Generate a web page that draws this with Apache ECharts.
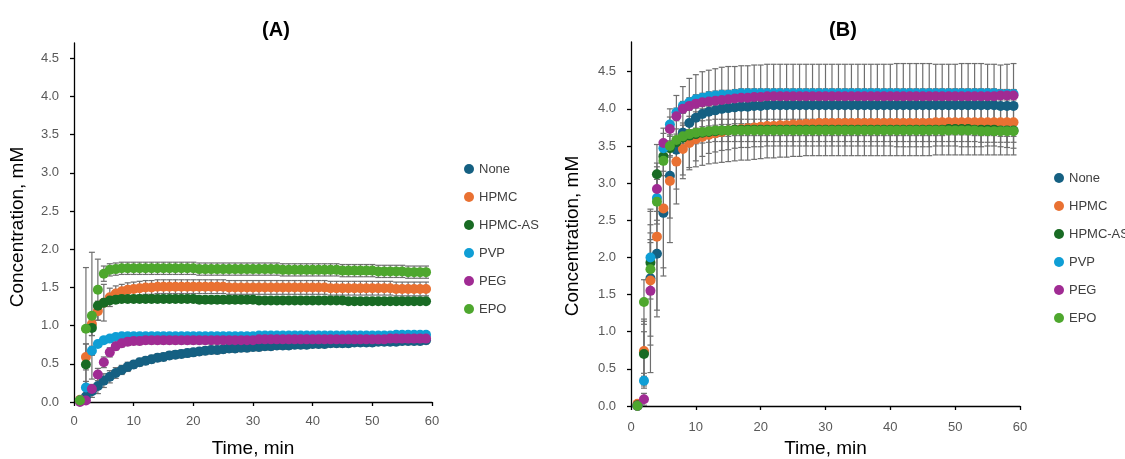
<!DOCTYPE html>
<html>
<head>
<meta charset="utf-8">
<script src="https://cdn.jsdelivr.net/npm/echarts@6/dist/echarts.min.js"></script>
<style>
html,body{margin:0;padding:0;background:#fff;}
#chart{width:1125px;height:459px;}
</style>
</head>
<body>
<div id="chart"></div>
<script>
// ---------------- DATA ----------------
const seriesNames = ['None', 'HPMC', 'HPMC-AS', 'PVP', 'PEG', 'EPO'];
const timeMin = [1,2,3,4,5,6,7,8,9,10,11,12,13,14,15,16,17,18,19,20,21,22,23,24,25,26,27,28,29,30,
  31,32,33,34,35,36,37,38,39,40,41,42,43,44,45,46,47,48,49,50,51,52,53,54,55,56,57,58,59];
const xTicks = [0,10,20,30,40,50,60];
const yTicks = [0,0.5,1,1.5,2,2.5,3,3.5,4,4.5];

// Panel (A) mean concentrations, mM
const A_None = [0.02,0.07,0.14,0.21,0.28,0.33,0.38,0.42,0.46,0.49,
  0.52,0.54,0.56,0.58,0.59,0.61,0.62,0.63,0.64,0.65,
  0.66,0.67,0.68,0.68,0.69,0.70,0.70,0.71,0.71,0.72,
  0.72,0.73,0.73,0.74,0.74,0.74,0.75,0.75,0.75,0.76,
  0.76,0.76,0.77,0.77,0.77,0.77,0.78,0.78,0.78,0.78,
  0.79,0.79,0.79,0.79,0.80,0.80,0.80,0.80,0.81];
const A_HPMC = [0.03,0.59,1.02,1.19,1.30,1.37,1.42,1.45,1.47,1.48,
  1.49,1.50,1.50,1.51,1.51,1.51,1.51,1.51,1.51,1.51,
  1.51,1.51,1.51,1.51,1.51,1.50,1.50,1.50,1.50,1.50,
  1.50,1.50,1.50,1.50,1.50,1.50,1.50,1.50,1.50,1.50,
  1.50,1.50,1.49,1.49,1.49,1.49,1.49,1.49,1.49,1.49,
  1.49,1.49,1.49,1.48,1.48,1.48,1.48,1.48,1.48];
const A_HPMCAS = [0.02,0.49,0.97,1.26,1.30,1.33,1.34,1.35,1.35,1.35,
  1.35,1.35,1.35,1.35,1.35,1.35,1.35,1.35,1.35,1.35,
  1.34,1.34,1.34,1.34,1.34,1.34,1.34,1.34,1.34,1.34,
  1.33,1.33,1.33,1.33,1.33,1.33,1.33,1.33,1.33,1.33,
  1.33,1.33,1.33,1.33,1.33,1.32,1.32,1.32,1.32,1.32,
  1.32,1.32,1.32,1.32,1.32,1.32,1.32,1.32,1.32];
const A_PVP = [0.02,0.19,0.67,0.76,0.81,0.83,0.85,0.86,0.86,0.86,
  0.86,0.86,0.86,0.86,0.86,0.86,0.86,0.86,0.86,0.86,
  0.86,0.86,0.86,0.86,0.86,0.86,0.86,0.86,0.86,0.86,
  0.87,0.87,0.87,0.87,0.87,0.87,0.87,0.87,0.87,0.87,
  0.87,0.87,0.87,0.87,0.87,0.87,0.87,0.87,0.87,0.87,
  0.87,0.87,0.87,0.88,0.88,0.88,0.88,0.88,0.88];
const A_PEG = [0.00,0.02,0.17,0.36,0.52,0.65,0.73,0.77,0.79,0.80,
  0.80,0.81,0.81,0.81,0.81,0.81,0.81,0.81,0.81,0.81,
  0.81,0.81,0.81,0.81,0.81,0.81,0.81,0.81,0.81,0.81,
  0.82,0.82,0.82,0.82,0.82,0.82,0.82,0.82,0.82,0.82,
  0.82,0.82,0.82,0.82,0.82,0.82,0.82,0.82,0.82,0.82,
  0.82,0.82,0.83,0.83,0.83,0.83,0.83,0.83,0.83];
const A_EPO = [0.02,0.96,1.13,1.47,1.68,1.73,1.74,1.75,1.75,1.75,
  1.75,1.75,1.75,1.75,1.75,1.75,1.75,1.75,1.75,1.75,
  1.74,1.74,1.74,1.74,1.74,1.74,1.74,1.74,1.74,1.74,
  1.74,1.74,1.74,1.74,1.73,1.73,1.73,1.73,1.73,1.73,
  1.73,1.73,1.73,1.73,1.72,1.72,1.72,1.72,1.72,1.72,
  1.71,1.71,1.71,1.71,1.71,1.70,1.70,1.70,1.70];

// Panel (A) standard deviations
const A_None_sd = [0.02,0.06,0.08,0.10,0.09,0.08,0.07,0.06,0.06,0.05,
  0.05,0.05,0.05,0.05,0.05,0.05,0.05,0.05,0.05,0.05,
  0.05,0.05,0.05,0.05,0.05,0.05,0.05,0.05,0.05,0.05,
  0.05,0.05,0.05,0.05,0.05,0.05,0.05,0.05,0.05,0.05,
  0.05,0.05,0.05,0.05,0.05,0.05,0.05,0.05,0.05,0.05,
  0.05,0.05,0.05,0.05,0.05,0.05,0.05,0.05,0.05];
const A_HPMC_sd = [0.02,0.17,0.15,0.12,0.24,0.12,0.10,0.09,0.09,0.09,
  0.09,0.09,0.09,0.09,0.09,0.09,0.09,0.09,0.09,0.09,
  0.09,0.09,0.09,0.09,0.09,0.09,0.09,0.09,0.09,0.09,
  0.09,0.09,0.09,0.09,0.09,0.09,0.09,0.09,0.09,0.09,
  0.09,0.09,0.09,0.09,0.09,0.09,0.09,0.09,0.09,0.09,
  0.09,0.09,0.09,0.09,0.09,0.09,0.09,0.09,0.09];
const A_HPMCAS_sd = [0.02,0.27,0.10,0.06,0.05,0.04,0.04,0.04,0.04,0.04,
  0.04,0.04,0.04,0.04,0.04,0.04,0.04,0.04,0.04,0.04,
  0.04,0.04,0.04,0.04,0.04,0.04,0.04,0.04,0.04,0.04,
  0.04,0.04,0.04,0.04,0.04,0.04,0.04,0.04,0.04,0.04,
  0.04,0.04,0.04,0.04,0.04,0.04,0.04,0.04,0.04,0.04,
  0.04,0.04,0.04,0.04,0.04,0.04,0.04,0.04,0.04];
const A_PVP_sd = [0.02,0.08,0.06,0.04,0.03,0.03,0.03,0.03,0.03,0.03,
  0.03,0.03,0.03,0.03,0.03,0.03,0.03,0.03,0.03,0.03,
  0.03,0.03,0.03,0.03,0.03,0.03,0.03,0.03,0.03,0.03,
  0.03,0.03,0.03,0.03,0.03,0.03,0.03,0.03,0.03,0.03,
  0.03,0.03,0.03,0.03,0.03,0.03,0.03,0.03,0.03,0.03,
  0.03,0.03,0.03,0.03,0.03,0.03,0.03,0.03,0.03];
const A_PEG_sd = [0.00,0.02,0.06,0.08,0.07,0.06,0.05,0.05,0.05,0.05,
  0.05,0.05,0.05,0.05,0.05,0.05,0.05,0.05,0.05,0.05,
  0.05,0.05,0.05,0.05,0.05,0.05,0.05,0.05,0.05,0.05,
  0.05,0.05,0.05,0.05,0.05,0.05,0.05,0.05,0.05,0.05,
  0.05,0.05,0.05,0.05,0.05,0.05,0.05,0.05,0.05,0.05,
  0.05,0.05,0.05,0.05,0.05,0.05,0.05,0.05,0.05];
const A_EPO_sd = [0.02,0.80,0.83,0.40,0.10,0.08,0.08,0.08,0.08,0.08,
  0.08,0.08,0.08,0.08,0.08,0.08,0.08,0.08,0.08,0.08,
  0.08,0.08,0.08,0.08,0.08,0.08,0.08,0.08,0.08,0.08,
  0.08,0.08,0.08,0.08,0.08,0.08,0.08,0.08,0.08,0.08,
  0.08,0.08,0.08,0.08,0.08,0.08,0.08,0.08,0.08,0.08,
  0.08,0.08,0.08,0.08,0.08,0.08,0.08,0.08,0.08];

// Panel (B) mean concentrations, mM
const B_None = [0.01,0.72,1.72,2.05,2.60,3.10,3.45,3.68,3.81,3.88,
  3.93,3.96,3.98,4.00,4.01,4.02,4.03,4.03,4.04,4.04,
  4.05,4.05,4.05,4.05,4.05,4.05,4.05,4.05,4.05,4.05,
  4.05,4.05,4.05,4.05,4.05,4.05,4.05,4.05,4.05,4.05,
  4.05,4.05,4.05,4.05,4.05,4.05,4.05,4.05,4.05,4.05,
  4.05,4.05,4.05,4.05,4.05,4.05,4.04,4.04,4.04];
const B_HPMC = [0.03,0.74,1.69,2.28,2.66,3.03,3.29,3.46,3.54,3.59,
  3.62,3.65,3.67,3.69,3.71,3.72,3.73,3.74,3.75,3.76,
  3.77,3.77,3.78,3.78,3.79,3.79,3.80,3.80,3.81,3.81,
  3.81,3.81,3.81,3.81,3.81,3.81,3.81,3.81,3.81,3.81,
  3.81,3.81,3.81,3.81,3.81,3.81,3.82,3.82,3.82,3.82,
  3.82,3.82,3.82,3.82,3.82,3.82,3.82,3.82,3.82];
const B_HPMCAS = [0.01,0.70,1.93,3.12,3.36,3.47,3.55,3.61,3.64,3.66,
  3.68,3.69,3.70,3.71,3.71,3.72,3.72,3.72,3.72,3.72,
  3.72,3.72,3.72,3.72,3.72,3.72,3.72,3.72,3.72,3.72,
  3.72,3.72,3.72,3.72,3.72,3.72,3.72,3.72,3.72,3.72,
  3.72,3.72,3.72,3.72,3.72,3.72,3.72,3.72,3.73,3.73,
  3.73,3.73,3.72,3.72,3.72,3.72,3.71,3.71,3.71];
const B_PVP = [0.00,0.34,2.00,2.80,3.47,3.79,3.95,4.04,4.09,4.13,
  4.15,4.17,4.18,4.19,4.19,4.20,4.21,4.21,4.21,4.21,
  4.21,4.21,4.21,4.21,4.21,4.21,4.21,4.21,4.21,4.21,
  4.21,4.21,4.21,4.21,4.21,4.21,4.21,4.21,4.21,4.21,
  4.21,4.21,4.21,4.21,4.21,4.21,4.21,4.21,4.21,4.21,
  4.21,4.21,4.21,4.21,4.21,4.21,4.20,4.20,4.20];
const B_PEG = [0.00,0.09,1.55,2.92,3.54,3.73,3.90,4.00,4.04,4.07,
  4.09,4.10,4.11,4.12,4.13,4.14,4.15,4.15,4.16,4.16,
  4.17,4.17,4.17,4.17,4.17,4.17,4.17,4.17,4.17,4.17,
  4.17,4.17,4.17,4.17,4.17,4.17,4.17,4.17,4.17,4.17,
  4.17,4.17,4.17,4.17,4.17,4.17,4.17,4.17,4.17,4.17,
  4.17,4.17,4.17,4.17,4.17,4.17,4.18,4.18,4.18];
const B_EPO = [0.00,1.40,1.84,2.75,3.30,3.50,3.58,3.63,3.66,3.68,
  3.69,3.70,3.71,3.71,3.71,3.71,3.71,3.71,3.71,3.71,
  3.71,3.71,3.71,3.71,3.71,3.71,3.71,3.71,3.71,3.71,
  3.71,3.71,3.71,3.71,3.71,3.71,3.71,3.71,3.71,3.71,
  3.71,3.71,3.71,3.71,3.71,3.71,3.71,3.71,3.71,3.71,
  3.71,3.71,3.71,3.70,3.70,3.70,3.70,3.70,3.70];

// Panel (B) standard deviations
const B_None_sd = [0.01,0.45,0.90,0.85,0.85,0.90,0.73,0.62,0.60,0.58,
  0.57,0.56,0.56,0.56,0.56,0.55,0.55,0.55,0.55,0.55,
  0.55,0.55,0.55,0.55,0.55,0.55,0.55,0.55,0.55,0.55,
  0.55,0.55,0.55,0.55,0.55,0.55,0.55,0.55,0.55,0.55,
  0.56,0.56,0.56,0.56,0.56,0.56,0.55,0.55,0.55,0.55,
  0.56,0.56,0.56,0.56,0.55,0.55,0.55,0.56,0.57];
const B_HPMC_sd = [0.03,0.40,0.75,0.99,0.80,0.50,0.37,0.35,0.36,0.37,
  0.38,0.39,0.40,0.41,0.42,0.42,0.42,0.43,0.43,0.43,
  0.43,0.43,0.43,0.43,0.43,0.43,0.43,0.43,0.44,0.44,
  0.44,0.44,0.44,0.44,0.44,0.44,0.44,0.44,0.44,0.44,
  0.44,0.44,0.44,0.44,0.44,0.44,0.44,0.44,0.44,0.44,
  0.44,0.44,0.44,0.44,0.44,0.44,0.44,0.44,0.44];
const B_HPMCAS_sd = [0.01,0.30,0.40,0.40,0.20,0.10,0.08,0.08,0.08,0.08,
  0.08,0.08,0.08,0.08,0.08,0.08,0.08,0.08,0.08,0.08,
  0.08,0.08,0.08,0.08,0.08,0.08,0.08,0.08,0.08,0.08,
  0.08,0.08,0.08,0.08,0.08,0.08,0.08,0.08,0.08,0.08,
  0.08,0.08,0.08,0.08,0.08,0.08,0.08,0.08,0.08,0.08,
  0.08,0.08,0.08,0.08,0.08,0.08,0.08,0.08,0.08];
const B_PVP_sd = [0.00,0.10,0.20,0.30,0.20,0.10,0.06,0.06,0.06,0.06,
  0.06,0.06,0.06,0.06,0.06,0.06,0.06,0.06,0.06,0.06,
  0.06,0.06,0.06,0.06,0.06,0.06,0.06,0.06,0.06,0.06,
  0.06,0.06,0.06,0.06,0.06,0.06,0.06,0.06,0.06,0.06,
  0.06,0.06,0.06,0.06,0.06,0.06,0.06,0.06,0.06,0.06,
  0.06,0.06,0.06,0.06,0.06,0.06,0.06,0.06,0.06];
const B_PEG_sd = [0.00,0.08,1.10,0.30,0.20,0.10,0.06,0.06,0.06,0.06,
  0.06,0.06,0.06,0.06,0.06,0.06,0.06,0.06,0.06,0.06,
  0.06,0.06,0.06,0.06,0.06,0.06,0.06,0.06,0.06,0.06,
  0.06,0.06,0.06,0.06,0.06,0.06,0.06,0.06,0.06,0.06,
  0.06,0.06,0.06,0.06,0.06,0.06,0.06,0.06,0.06,0.06,
  0.06,0.06,0.06,0.06,0.06,0.06,0.06,0.06,0.06];
const B_EPO_sd = [0.00,0.30,0.40,0.30,0.20,0.15,0.15,0.15,0.15,0.15,
  0.15,0.15,0.15,0.15,0.15,0.15,0.15,0.15,0.15,0.15,
  0.15,0.15,0.15,0.15,0.15,0.15,0.15,0.15,0.15,0.15,
  0.15,0.15,0.15,0.15,0.15,0.15,0.15,0.15,0.15,0.15,
  0.15,0.15,0.15,0.15,0.15,0.15,0.15,0.15,0.15,0.15,
  0.15,0.15,0.15,0.15,0.15,0.15,0.15,0.15,0.15];

// ---------------- STYLE ----------------
const colors = ['#156082', '#E97132', '#196B24', '#0F9ED5', '#A02B93', '#4EA72E'];
const FONT = '"Liberation Sans", Arial, sans-serif';
const panelA = { means: [A_None, A_HPMC, A_HPMCAS, A_PVP, A_PEG, A_EPO],
                 sds: [A_None_sd, A_HPMC_sd, A_HPMCAS_sd, A_PVP_sd, A_PEG_sd, A_EPO_sd] };
const panelB = { means: [B_None, B_HPMC, B_HPMCAS, B_PVP, B_PEG, B_EPO],
                 sds: [B_None_sd, B_HPMC_sd, B_HPMCAS_sd, B_PVP_sd, B_PEG_sd, B_EPO_sd] };

function errRender(params, api) {
  const x = api.value(0);
  const lo = api.coord([x, api.value(1)]);
  const hi = api.coord([x, api.value(2)]);
  const w = 3;
  const st = { stroke: '#6e6e6e', lineWidth: 1.2 };
  return { type: 'group', children: [
    { type: 'line', shape: { x1: lo[0], y1: lo[1], x2: hi[0], y2: hi[1] }, style: st },
    { type: 'line', shape: { x1: lo[0] - w, y1: lo[1], x2: lo[0] + w, y2: lo[1] }, style: st },
    { type: 'line', shape: { x1: hi[0] - w, y1: hi[1], x2: hi[0] + w, y2: hi[1] }, style: st }
  ]};
}

const series = [];
[panelA, panelB].forEach((p, pi) => {
  p.means.forEach((m, si) => {
    series.push({
      type: 'custom', name: 'err' + pi + si, xAxisIndex: pi, yAxisIndex: pi,
      renderItem: errRender, clip: false, z: 2, silent: true,
      data: timeMin.map((t, k) => [t, m[k] - p.sds[si][k], m[k] + p.sds[si][k]])
    });
  });
});
[panelA, panelB].forEach((p, pi) => {
  p.means.forEach((m, si) => {
    series.push({
      type: 'scatter', name: seriesNames[si], xAxisIndex: pi, yAxisIndex: pi,
      symbol: 'circle', symbolSize: 10, z: 3 + si,
      itemStyle: { color: colors[si], opacity: 1 },
      data: timeMin.map((t, k) => [t, m[k]])
    });
  });
});

function xAx(gi, margin, gap) {
  return {
    gridIndex: gi, type: 'value', min: 0, max: 60, interval: 10,
    axisLine: { onZero: false, lineStyle: { color: '#000', width: 1.3 } },
    axisTick: { show: true, length: 4, lineStyle: { color: '#000', width: 1.3 } },
    splitLine: { show: false },
    axisLabel: { color: '#595959', fontSize: 13, margin: margin, fontFamily: FONT, customValues: xTicks },
    name: 'Time, min', nameLocation: 'middle', nameGap: gap,
    nameTextStyle: { fontSize: 19, color: '#000', fontFamily: FONT }
  };
}
function yAx(gi, max, gap, pad) {
  return {
    gridIndex: gi, type: 'value', min: 0, max: max, interval: 0.5,
    axisLine: { show: true, onZero: false, lineStyle: { color: '#000', width: 1.3 } },
    axisTick: { show: true, length: 4, customValues: yTicks, lineStyle: { color: '#000', width: 1.3 } },
    splitLine: { show: false },
    axisLabel: { color: '#595959', fontSize: 13, margin: 15, fontFamily: FONT,
                 customValues: yTicks, formatter: v => v.toFixed(1) },
    name: 'Concentration, mM', nameLocation: 'middle', nameGap: gap,
    nameTextStyle: { fontSize: 19, color: '#000', fontFamily: FONT, padding: pad }
  };
}

function legendAt(left, top) {
  return {
    orient: 'vertical', left: left, top: top, icon: 'circle',
    itemWidth: 10, itemHeight: 10, itemGap: 14,
    data: seriesNames,
    textStyle: { color: '#404040', fontSize: 13, fontFamily: FONT, lineHeight: 14 }
  };
}

const option = {
  backgroundColor: '#fff',
  animation: false,
  grid: [
    { left: 74, top: 43, width: 358, height: 359, outerBoundsMode: 'none', containLabel: false },
    { left: 631, top: 42, width: 389, height: 364, outerBoundsMode: 'none', containLabel: false }
  ],
  xAxis: [xAx(0, 13, 37), xAx(1, 15, 33)],
  yAxis: [yAx(0, 4.7, 47, [0, 9, 0, 0]), yAx(1, 4.9, 49, [0, 24, 0, 0])],
  legend: [legendAt(459, 157), legendAt(1049, 166)],
  graphic: [
    { type: 'text', x: 276, y: 30, style: { text: '(A)', font: 'bold 20px ' + FONT, fill: '#000', align: 'center', verticalAlign: 'middle' } },
    { type: 'text', x: 843, y: 30, style: { text: '(B)', font: 'bold 20px ' + FONT, fill: '#000', align: 'center', verticalAlign: 'middle' } }
  ],
  series: series
};

const chart = echarts.init(document.getElementById('chart'), null, { renderer: 'canvas' });
chart.setOption(option);
</script>
</body>
</html>
